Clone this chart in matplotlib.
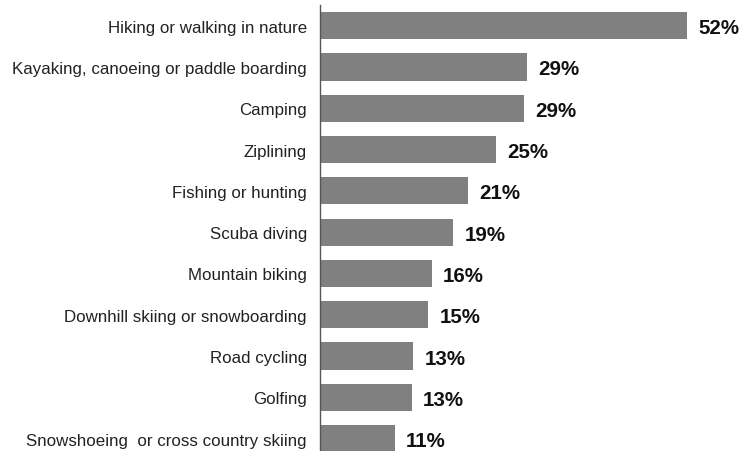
import matplotlib.pyplot as plt

plt.rcParams['font.family'] = ['Liberation Sans', 'DejaVu Sans']

# Share of respondents per activity (%)
activities = [
    "Hiking or walking in nature",
    "Kayaking, canoeing or paddle boarding",
    "Camping",
    "Ziplining",
    "Fishing or hunting",
    "Scuba diving",
    "Mountain biking",
    "Downhill skiing or snowboarding",
    "Road cycling",
    "Golfing",
    "Snowshoeing  or cross country skiing",
]
shares = [52.0, 29.3, 28.9, 25.0, 21.0, 18.9, 15.8, 15.3, 13.2, 13.0, 10.6]

W, H = 742, 452
fig = plt.figure(figsize=(W / 100, H / 100), dpi=100)

# axes placed in pixel terms; bottom band runs past the figure edge
left, top = 320, 6
step = 41.3
n = len(activities)
bottom = top + step * n
ax = fig.add_axes([left / W, 1 - bottom / H, (W - left) / W, (bottom - top) / H])

ypos = list(range(n))
ax.barh(ypos, shares, height=0.66, color='#808080')
ax.set_ylim(n - 0.5, -0.5)
px_per_unit = (687 - left) / 52.0
ax.set_xlim(0, (W - left) / px_per_unit)

for y, v in zip(ypos, shares):
    ax.text(v + 1.6, y, f"{v:.0f}%", va='center_baseline', ha='left',
            fontsize=14.8, fontweight='bold', color='#111111')

ax.set_yticks(ypos)
ax.set_yticklabels(activities, fontsize=12.15, color='#222222')
for lbl in ax.get_yticklabels():
    lbl.set_verticalalignment('center_baseline')
ax.tick_params(axis='y', length=0, pad=9.5)
ax.set_xticks([])
for side in ['top', 'right', 'bottom']:
    ax.spines[side].set_visible(False)
ax.spines['left'].set_color('#555555')
ax.spines['left'].set_linewidth(1.0)

fig.savefig('out.png', dpi=100)
